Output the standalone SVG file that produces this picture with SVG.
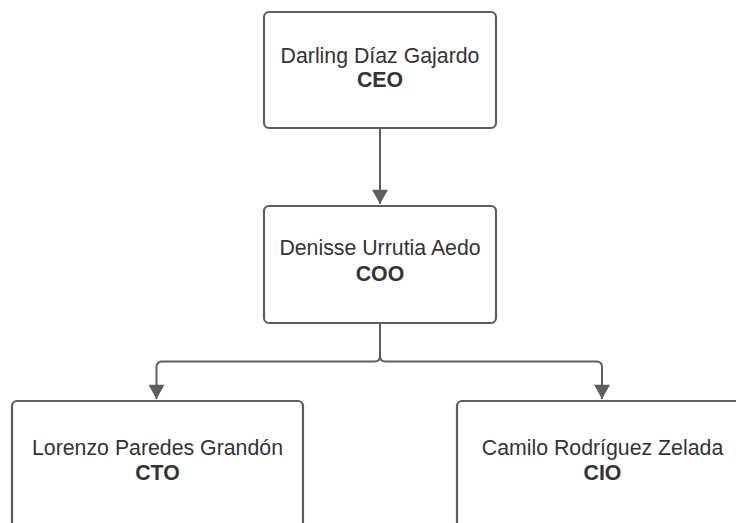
<svg xmlns="http://www.w3.org/2000/svg" width="736" height="523" viewBox="0 0 736 523">
  <defs>
    <style>
      .box { fill: #ffffff; stroke: #5e5e5e; stroke-width: 2.2; }
      .name { font-family: "Liberation Sans", Arial, sans-serif; font-size: 21.3px; fill: #333333; text-anchor: middle; }
      .role { font-family: "Liberation Sans", Arial, sans-serif; font-size: 21.3px; font-weight: bold; fill: #333333; text-anchor: middle; }
      .conn { fill: none; stroke: #5e5e5e; stroke-width: 2; }
    </style>
    <marker id="arrow" markerUnits="userSpaceOnUse" markerWidth="18" markerHeight="16" refX="16" refY="9" orient="auto" viewBox="0 0 18 18">
      <path d="M0,0 L16,9 L0,18 Z" fill="#5e5e5e"/>
    </marker>
  </defs>
  <rect width="736" height="523" fill="#ffffff"/>

  <g id="connectors">
    <path class="conn" d="M380,129 L380,204" marker-end="url(#arrow)"/>
    <path class="conn" d="M380,324 L380,356 Q380,361.5 374.5,361.5 L162,361.5 Q156.5,361.5 156.5,367 L156.5,399" marker-end="url(#arrow)"/>
    <path class="conn" d="M380,356 Q380,361.5 385.5,361.5 L596.5,361.5 Q602,361.5 602,367 L602,399" marker-end="url(#arrow)"/>
  </g>

  <g id="node-ceo">
    <rect class="box" x="264" y="12" width="232" height="116" rx="5"/>
    <text class="name" x="380" y="63.3">Darling Díaz Gajardo</text>
    <text class="role" x="380" y="87.3">CEO</text>
  </g>

  <g id="node-coo">
    <rect class="box" x="264" y="206" width="232" height="117" rx="5"/>
    <text class="name" x="380" y="255.3">Denisse Urrutia Aedo</text>
    <text class="role" x="380" y="280.5">COO</text>
  </g>

  <g id="node-cto">
    <rect class="box" x="12" y="401" width="291" height="140" rx="5"/>
    <text class="name" x="157.5" y="455.3">Lorenzo Paredes Grandón</text>
    <text class="role" x="157.5" y="480">CTO</text>
  </g>

  <g id="node-cio">
    <rect class="box" x="457" y="401" width="291" height="140" rx="5"/>
    <text class="name" x="602.5" y="455">Camilo Rodríguez Zelada</text>
    <text class="role" x="602.5" y="480">CIO</text>
  </g>
</svg>
